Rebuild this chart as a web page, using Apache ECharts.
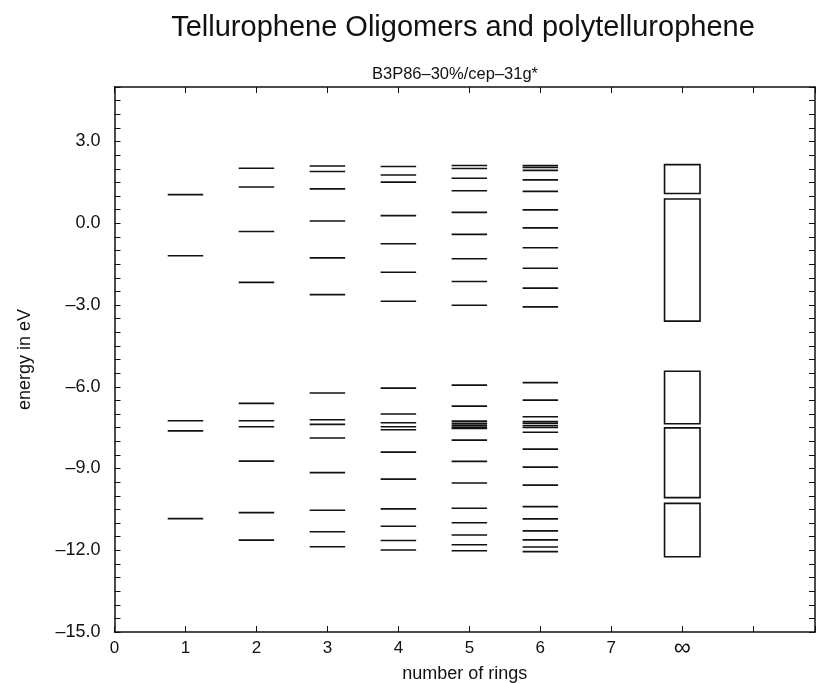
<!DOCTYPE html>
<html>
<head>
<meta charset="utf-8">
<script src="https://cdn.jsdelivr.net/npm/echarts@6/dist/echarts.min.js"></script>
<style>
  html, body { margin: 0; padding: 0; background: #fff; }
  #chart { width: 817px; height: 683px; }
</style>
</head>
<body>
<div id="chart"></div>
<script>
  // energy levels (eV), one list per oligomer length
  var ring1 = [1.05, -1.19, -7.25, -7.62, -10.84];
  var ring2 = [2.02, 1.33, -0.30, -2.17, -6.61, -7.25, -7.47, -8.73, -10.62, -11.63];
  var ring3 = [2.10, 1.90, 1.26, 0.08, -1.27, -2.62, -6.23, -7.21, -7.38, -7.88, -9.15, -10.53, -11.32, -11.87];
  var ring4 = [2.08, 1.77, 1.51, 0.28, -0.75, -1.80, -2.86, -6.05, -7.00, -7.32, -7.47, -7.58, -8.40, -9.39,
               -10.48, -11.12, -11.64, -11.99];
  var ring5 = [2.12, 2.01, 1.65, 1.19, 0.40, -0.41, -1.30, -2.14, -3.01, -5.94, -6.71, -7.26, -7.34, -7.41,
               -7.48, -7.53, -7.96, -8.74, -9.53, -10.46, -10.99, -11.44, -11.80, -12.02];
  var ring6 = [2.12, 2.05, 1.94, 1.59, 1.17, 0.49, -0.17, -0.90, -1.65, -2.38, -3.07, -5.85, -6.49, -7.10,
               -7.28, -7.34, -7.42, -7.49, -7.67, -8.29, -8.95, -9.61, -10.40, -10.85, -11.29, -11.62, -11.88, -12.05];
  var ringCounts = [1, 2, 3, 4, 5, 6];
  // polymer bands, drawn at the "infinity" position
  var infPos = 8;
  var infBandLow = [1.09, -3.59, -7.36, -10.07, -12.24];
  var infBandHigh = [2.15, 0.89, -5.43, -7.51, -10.28];

  var xTickLabels = ['0', '1', '2', '3', '4', '5', '6', '7', '\u221e'];
  var yTickValues = [3, 0, -3, -6, -9, -12, -15];
  var yTickLabels = ['3.0', '0.0', '\u20133.0', '\u20136.0', '\u20139.0', '\u201312.0', '\u201315.0'];

  var HALF = 0.25; // half width of a level bar, in x units
  var FONT = 'Liberation Sans, Arial, Helvetica, sans-serif';

  var levels = [];
  [ring1, ring2, ring3, ring4, ring5, ring6].forEach(function (arr, i) {
    arr.forEach(function (e) {
      levels.push([ringCounts[i], e]);
    });
  });
  var bands = infBandLow.map(function (lo, i) {
    return [infPos, lo, infBandHigh[i]];
  });

  var chart = echarts.init(document.getElementById('chart'));

  var xLabel = function (v) {
    var i = Math.round(v);
    if (Math.abs(v - i) > 1e-6 || i >= xTickLabels.length) return '';
    if (i === infPos) return '{inf|' + xTickLabels[i] + '}';
    return xTickLabels[i];
  };
  var yLabel = function (v) {
    for (var i = 0; i < yTickValues.length; i++) {
      if (Math.abs(v - yTickValues[i]) < 1e-6) return yTickLabels[i];
    }
    return '';
  };

  var frameLine = { onZero: false, lineStyle: { color: '#111', width: 1.5 } };
  var frameTick = { show: true, inside: true, length: 6, lineStyle: { color: '#111' } };

  var option = {
    animation: false,
    backgroundColor: '#fff',
    title: [{
      text: 'Tellurophene Oligomers and polytellurophene',
      left: 458,
      top: 8,
      textAlign: 'center',
      textStyle: { fontFamily: FONT, fontSize: 29, fontWeight: 'normal', color: '#111' }
    }, {
      text: 'B3P86\u201330%/cep\u201331g*',
      left: 450,
      top: 61,
      textAlign: 'center',
      textStyle: { fontFamily: FONT, fontSize: 16.5, fontWeight: 'normal', color: '#111' }
    }],
    grid: {
      left: 114.5,
      right: 2,
      top: 87,
      bottom: 51,
      outerBoundsMode: 'none'
    },
    xAxis: [{
      type: 'value',
      min: 0,
      max: 9.87,
      interval: 1,
      position: 'bottom',
      name: 'number of rings',
      nameLocation: 'middle',
      nameGap: 31,
      nameTextStyle: { fontFamily: FONT, fontSize: 18, color: '#111' },
      axisLine: frameLine,
      axisTick: frameTick,
      axisLabel: {
        formatter: xLabel, fontFamily: FONT, fontSize: 17, color: '#111', margin: 8,
        rich: { inf: { fontFamily: FONT, fontSize: 24, color: '#111', lineHeight: 17 } }
      },
      splitLine: { show: false }
    }, {
      type: 'value',
      min: 0,
      max: 9.87,
      interval: 1,
      position: 'top',
      axisLine: frameLine,
      axisTick: frameTick,
      axisLabel: { show: false },
      splitLine: { show: false }
    }],
    yAxis: [{
      type: 'value',
      min: -15,
      max: 5,
      interval: 0.5,
      position: 'left',
      name: 'energy in eV',
      nameLocation: 'middle',
      nameRotate: 90,
      nameGap: 80,
      nameTextStyle: { fontFamily: FONT, fontSize: 18, color: '#111' },
      axisLine: { show: true, onZero: false, lineStyle: { color: '#111', width: 1.5 } },
      axisTick: frameTick,
      axisLabel: { formatter: yLabel, fontFamily: FONT, fontSize: 18, color: '#111', margin: 14 },
      splitLine: { show: false }
    }, {
      type: 'value',
      min: -15,
      max: 5,
      interval: 0.5,
      position: 'right',
      axisLine: { show: true, onZero: false, lineStyle: { color: '#111', width: 1.5 } },
      axisTick: frameTick,
      axisLabel: { show: false },
      splitLine: { show: false }
    }],
    series: [{
      name: 'levels',
      type: 'custom',
      xAxisIndex: 0,
      yAxisIndex: 0,
      data: levels,
      renderItem: function (params, api) {
        var x = api.value(0), e = api.value(1);
        var a = api.coord([x - HALF, e]);
        var b = api.coord([x + HALF, e]);
        return {
          type: 'line',
          shape: { x1: a[0], y1: a[1], x2: b[0], y2: b[1] },
          style: { stroke: '#111', lineWidth: 1.6 }
        };
      }
    }, {
      name: 'bands',
      type: 'custom',
      xAxisIndex: 0,
      yAxisIndex: 0,
      data: bands,
      renderItem: function (params, api) {
        var x = api.value(0);
        var a = api.coord([x - HALF, api.value(2)]);
        var b = api.coord([x + HALF, api.value(1)]);
        return {
          type: 'rect',
          shape: { x: a[0], y: a[1], width: b[0] - a[0], height: b[1] - a[1] },
          style: { fill: 'none', stroke: '#111', lineWidth: 1.6 }
        };
      }
    }]
  };

  chart.setOption(option);
  window.addEventListener('resize', function () {
    chart.resize();
  });
</script>
</body>
</html>
